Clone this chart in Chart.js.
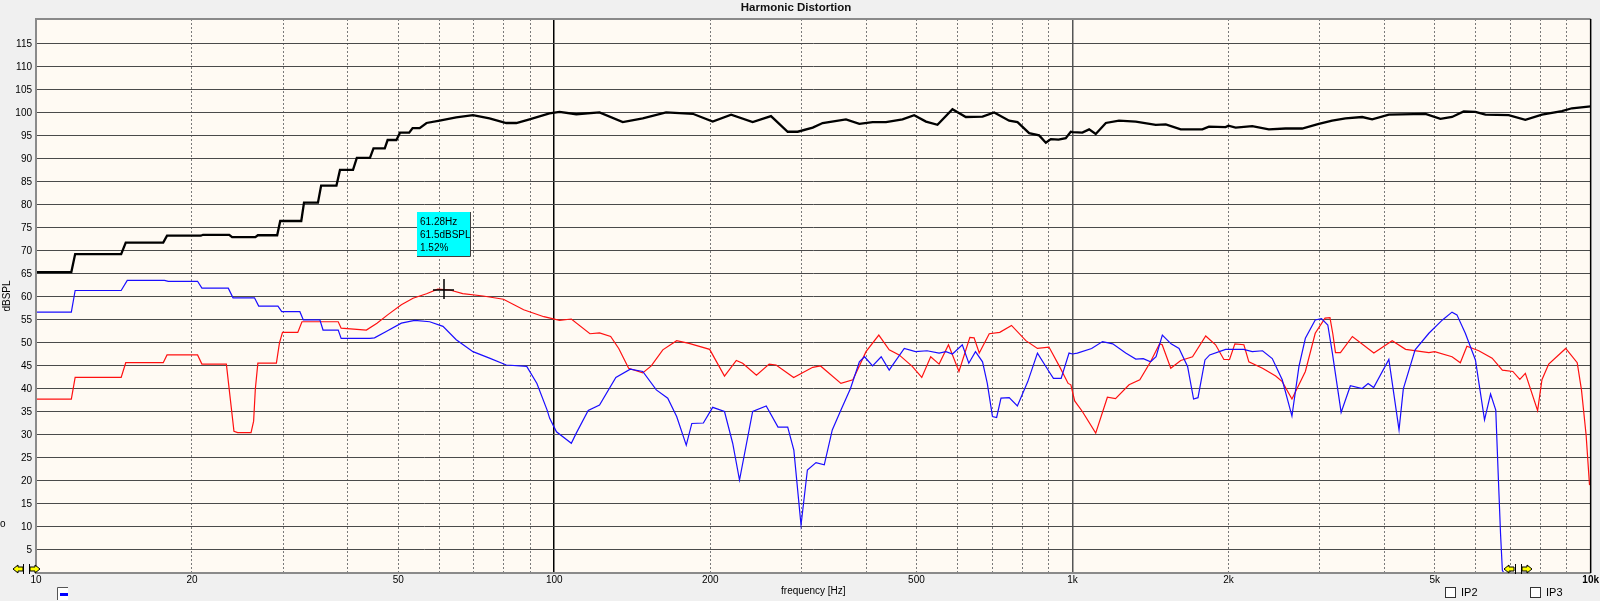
<!DOCTYPE html>
<html>
<head>
<meta charset="utf-8">
<title>Harmonic Distortion</title>
<script src="https://cdn.jsdelivr.net/npm/chart.js@4.4.1/dist/chart.umd.min.js"></script>
<style>
  html, body { margin: 0; padding: 0; background: #f0f0f0; overflow: hidden; }
  canvas { display: block; }
</style>
</head>
<body>
<canvas id="hd" width="1600" height="601"></canvas>
<script>
// ── Data ───────────────────────────────────────────
// fundamental
const fundHz = [
  10, 11.7, 11.9, 14.6, 14.9, 17.6, 17.9, 20.8, 21.0, 23.6,
  23.9, 26.5, 26.8, 29.2, 29.6, 32.5, 32.9, 35.0, 35.5, 38.0,
  38.6, 40.9, 41.6, 44.1, 44.8, 47.1, 47.7, 49.6, 50.4, 52.5,
  53.3, 55.0, 56.7, 60.1, 64.7, 69.7, 75.0, 80.8, 84.5, 89.6,
  97.9, 102.4, 110.3, 122.3, 135.6, 148.2, 164.4, 185.1, 202.2, 219.5,
  241.5, 262, 282.2, 295, 315.4, 329.6, 365.6, 388, 411.5, 436.7,
  470, 495, 521.7, 549, 586.8, 622.6, 670.7, 706.3, 754.9, 783.4,
  825, 862.4, 888.5, 908.4, 940, 970.8, 992.5, 1000, 1045, 1077,
  1109, 1160, 1230, 1325, 1448, 1514, 1618, 1781, 1834, 1975,
  2000, 2065, 2223, 2393, 2578, 2775, 2988, 3171, 3365, 3623,
  3788, 4079, 4800, 5130, 5401, 5689, 5993, 6265, 6947, 7481,
  8054, 8800, 9200, 10000
];
const fundDb = [
  65.4, 65.4, 69.3, 69.3, 71.8, 71.8, 73.3, 73.3, 73.5, 73.5,
  73.0, 73.0, 73.4, 73.4, 76.5, 76.5, 80.5, 80.5, 84.2, 84.2,
  87.6, 87.6, 90.2, 90.2, 92.3, 92.3, 94.1, 94.1, 95.7, 95.7,
  96.7, 96.7, 97.8, 98.3, 99.0, 99.5, 98.8, 97.8, 97.8, 98.6,
  99.9, 100.2, 99.7, 100.1, 98.0, 98.8, 100.1, 99.8, 98.1, 99.6,
  98.0, 99.3, 95.9, 95.9, 96.8, 97.8, 98.6, 97.6, 98.0, 98.0,
  98.6, 99.5, 98.1, 97.4, 100.8, 99.1, 99.2, 100.1, 98.3, 98.0,
  95.6, 95.1, 93.5, 94.3, 94.2, 94.5, 95.9, 95.8, 95.7, 96.4,
  95.4, 97.8, 98.3, 98.1, 97.4, 97.5, 96.4, 96.4, 97.0, 96.9,
  97.2, 96.8, 97.1, 96.4, 96.6, 96.6, 97.6, 98.3, 98.8, 99.1,
  98.6, 99.6, 99.8, 98.7, 99.1, 100.3, 100.2, 99.6, 99.5, 98.5,
  99.6, 100.4, 101.0, 101.4
];

// 2nd harmonic (red)
const h2Hz = [
  10, 11.7, 11.9, 14.6, 14.9, 17.6, 17.9, 20.5, 20.9, 23.3,
  23.7, 24.1, 24.5, 26.0, 26.3, 26.5, 26.8, 29.1, 29.5, 29.9,
  32.0, 32.6, 38.3, 38.8, 43.4, 45.5, 47.7, 50.7, 53.4, 56.7,
  59.6, 62.9, 66.6, 72.9, 79.8, 87.3, 95.5, 102.4, 107.9, 117.2,
  122.3, 128.5, 133.2, 139.2, 148.2, 153.9, 162, 172.3, 182, 199.5,
  213.1, 224.6, 231, 245.6, 259.9, 268, 289.8, 315.4, 326.5, 357.5,
  377, 399.6, 423, 443, 463, 490.8, 512, 532.7, 553, 576.5,
  604, 634, 646, 661, 691, 724, 762.8, 813, 856, 901,
  944, 981, 993, 1010, 1045, 1109, 1168, 1211, 1286, 1349,
  1415, 1473, 1490, 1548, 1618, 1705, 1808, 1889, 1960, 2010,
  2058, 2142, 2190, 2327, 2467, 2540, 2652, 2815, 2941, 3072,
  3140, 3180, 3218, 3290, 3469, 3816, 4140, 4395, 4873, 5000,
  5401, 5604, 5770, 6083, 6455, 6755, 7077, 7300, 7481, 7900,
  8054, 8300, 8950, 9420, 9600, 9800, 9950
];
const h2Db = [
  37.8, 37.8, 42.5, 42.5, 45.7, 45.7, 47.4, 47.4, 45.4, 45.4,
  38.0, 30.8, 30.5, 30.5, 33.0, 40.0, 45.6, 45.6, 50.0, 52.3,
  52.3, 54.6, 54.6, 53.2, 52.8, 54.3, 56.1, 58.3, 59.7, 60.7,
  61.7, 61.5, 60.7, 60.2, 59.5, 57.2, 55.7, 54.9, 55.2, 52.0,
  52.2, 51.4, 48.8, 44.5, 43.5, 45.0, 48.5, 50.5, 49.9, 48.6,
  42.8, 46.2, 45.6, 43.0, 45.4, 45.2, 42.5, 44.7, 45.0, 41.2,
  42.0, 48.1, 51.7, 48.5, 47.4, 44.9, 42.5, 47.0, 45.4, 49.6,
  43.8, 51.2, 51.1, 47.8, 52.0, 52.3, 53.8, 50.5, 48.8, 49.1,
  44.9, 41.2, 40.9, 37.4, 35.1, 30.4, 38.2, 37.9, 40.9, 42.0,
  45.9, 49.8, 49.6, 44.5, 46.2, 47.0, 51.5, 49.6, 46.4, 46.4,
  49.8, 49.6, 45.9, 44.5, 42.8, 41.6, 37.8, 43.8, 52.1, 55.4,
  55.5, 52.0, 47.9, 47.9, 51.4, 47.8, 50.5, 48.6, 47.9, 48.1,
  47.0, 45.7, 49.3, 48.3, 46.7, 44.1, 43.8, 42.1, 43.4, 35.3,
  42.0, 45.4, 48.8, 45.7, 39.8, 30.0, 19.1
];

// 3rd harmonic (blue)
const h3Hz = [
  10, 11.7, 11.9, 14.6, 15.0, 17.7, 18.0, 20.5, 20.9, 23.5,
  24.0, 26.4, 26.9, 29.3, 29.8, 32.3, 32.8, 35.3, 35.8, 38.3,
  38.8, 44.1, 45.0, 47.4, 50.7, 53.8, 57.5, 61.0, 64.7, 69.7,
  75.0, 80.8, 88.5, 92.6, 96.9, 98, 101, 107.9, 110.3, 116.3,
  122.3, 131.5, 140.2, 148.2, 157.4, 165.6, 172.3, 179.8, 184.3, 194,
  202.2, 213.1, 221, 227.8, 241.5, 256.5, 270.3, 282.2, 290, 299.4,
  308, 320, 332, 344, 357.5, 373, 388, 397, 411.5, 427.5,
  443, 448, 473.7, 498, 524, 553, 570, 586.8, 613, 631,
  650, 670.7, 685, 701, 714, 728, 755, 783, 820, 856,
  901, 919, 951, 985, 1000, 1022, 1089, 1143, 1196, 1267,
  1325, 1370, 1415, 1450, 1491, 1550, 1606, 1668, 1713, 1747,
  1802, 1840, 1975, 2140, 2223, 2327, 2430, 2540, 2652, 2736,
  2815, 2941, 3024, 3110, 3174, 3300, 3438, 3623, 3720, 3813,
  4079, 4268, 4350, 4584, 4873, 5176, 5401, 5520, 5730, 5993,
  6240, 6410, 6560, 6630, 6700, 6755, 6800
];
const h3Db = [
  56.7, 56.7, 61.4, 61.4, 63.6, 63.6, 63.4, 63.4, 61.9, 61.9,
  59.8, 59.8, 58.0, 58.0, 56.8, 56.8, 55.0, 55.0, 52.8, 52.8,
  51.0, 51.0, 51.1, 52.5, 54.3, 54.9, 54.6, 53.6, 50.7, 48.1,
  46.7, 45.2, 44.9, 41.2, 35.4, 33.6, 30.7, 28.2, 30.4, 35.3,
  36.5, 42.5, 44.3, 43.8, 39.8, 38.0, 34.0, 27.8, 32.5, 32.6,
  36.0, 35.1, 28.2, 20.2, 35.1, 36.3, 31.7, 31.7, 26.7, 10.4,
  22.4, 24.0, 23.5, 31.1, 35.4, 40.1, 45.9, 47.0, 45.0, 47.0,
  44.1, 44.9, 48.8, 48.1, 48.3, 47.8, 48.1, 47.6, 49.6, 45.6,
  48.1, 45.9, 41.2, 34.0, 33.8, 38.0, 38.1, 36.3, 41.6, 47.8,
  43.8, 42.3, 42.3, 47.8, 47.6, 47.8, 48.8, 50.3, 49.8, 47.8,
  46.5, 46.6, 45.9, 47.0, 51.7, 49.8, 48.8, 44.9, 37.8, 38.1,
  46.3, 47.4, 48.6, 48.6, 48.1, 48.3, 46.6, 42.0, 34.1, 44.9,
  51.0, 55.0, 55.3, 53.9, 47.8, 34.9, 40.7, 40.1, 41.2, 40.3,
  46.4, 31.1, 40.0, 48.5, 52.1, 55.0, 56.7, 56.1, 52.1, 46.3,
  33.3, 38.9, 35.4, 21.7, 8.6, 0.6, 0
];

// axes
const xTicks = [
  10, 20, 30, 40, 50, 60, 70, 80, 90,
  100, 200, 300, 400, 500, 600, 700, 800, 900,
  1000, 2000, 3000, 4000, 5000, 6000, 7000, 8000, 9000, 10000
];
const xLabels = { 10: '10', 20: '20', 50: '50', 100: '100', 200: '200', 500: '500',
                  1000: '1k', 2000: '2k', 5000: '5k', 10000: '10k' };
const yTicks = [5, 10, 15, 20, 25, 30, 35, 40, 45, 50, 55, 60,
                65, 70, 75, 80, 85, 90, 95, 100, 105, 110, 115];

// cursor readout
const cursorHz = 61.28;
const cursorDb = 61.5;
const cursorPct = '1.52%';

const FONT = '"Liberation Sans", Arial, sans-serif';
const pts = (xs, ys) => xs.map((x, i) => ({ x, y: ys[i] }));

// ── Plugins ───────────────────────────────────────
const backdrop = {
  id: 'backdrop',
  beforeDraw(chart) {
    const { ctx, chartArea: a } = chart;
    ctx.save();
    ctx.fillStyle = '#f0f0f0';
    ctx.fillRect(0, 0, chart.width, chart.height);
    ctx.fillStyle = '#fffaf3';
    ctx.fillRect(a.left, a.top, a.right - a.left, a.bottom - a.top);
    ctx.restore();
  }
};

function arrow(ctx, x, y, dir) {
  // little yellow marker arrow, tip at x
  const s = dir;
  ctx.beginPath();
  ctx.moveTo(x, y);
  ctx.lineTo(x + 5 * s, y - 4);
  ctx.lineTo(x + 5 * s, y - 2);
  ctx.lineTo(x + 10 * s, y - 2);
  ctx.lineTo(x + 10 * s, y + 2);
  ctx.lineTo(x + 5 * s, y + 2);
  ctx.lineTo(x + 5 * s, y + 4);
  ctx.closePath();
  ctx.fillStyle = '#ffff00';
  ctx.fill();
  ctx.strokeStyle = '#000';
  ctx.lineWidth = 1;
  ctx.stroke();
}

function bar(ctx, x, y) {
  ctx.beginPath();
  ctx.moveTo(x + 0.5, y - 5);
  ctx.lineTo(x + 0.5, y + 5);
  ctx.strokeStyle = '#000';
  ctx.lineWidth = 1;
  ctx.stroke();
}

function checkbox(ctx, x, y, label) {
  ctx.fillStyle = '#fff';
  ctx.fillRect(x, y, 10, 10);
  ctx.strokeStyle = '#333';
  ctx.lineWidth = 1;
  ctx.strokeRect(x + 0.5, y + 0.5, 10, 10);
  ctx.fillStyle = '#000';
  ctx.font = '11px ' + FONT;
  ctx.textBaseline = 'middle';
  ctx.textAlign = 'left';
  ctx.fillText(label, x + 16, y + 6);
}

const cursor = {
  id: 'cursor',
  afterDatasetsDraw(chart) {
    const { ctx } = chart;
    const cx = chart.scales.x.getPixelForValue(cursorHz);
    const cy = chart.scales.y.getPixelForValue(cursorDb);
    ctx.save();
    // crosshair
    ctx.strokeStyle = '#000';
    ctx.lineWidth = 1.5;
    ctx.beginPath();
    ctx.moveTo(cx - 11, cy); ctx.lineTo(cx + 10, cy);
    ctx.moveTo(cx, cy - 11); ctx.lineTo(cx, cy + 9);
    ctx.stroke();
    // readout box
    const bx = Math.round(cx - 27), by = Math.round(cy - 78);
    ctx.fillStyle = '#00ffff';
    ctx.fillRect(bx, by, 53, 44);
    ctx.strokeStyle = '#404040';
    ctx.lineWidth = 1;
    ctx.beginPath();
    ctx.moveTo(bx + 53.5, by); ctx.lineTo(bx + 53.5, by + 44.5); ctx.lineTo(bx, by + 44.5);
    ctx.stroke();
    ctx.fillStyle = '#000';
    ctx.font = '10px ' + FONT;
    ctx.textAlign = 'left';
    ctx.textBaseline = 'middle';
    ctx.fillText(cursorHz + 'Hz', bx + 3, by + 10);
    ctx.fillText(cursorDb + 'dBSPL', bx + 3, by + 23);
    ctx.fillText(cursorPct, bx + 3, by + 36);
    ctx.restore();
  }
};

const frame = {
  id: 'frame',
  afterDraw(chart) {
    const { ctx, chartArea: a } = chart;
    ctx.save();
    // plot frame
    ctx.strokeStyle = '#8a8a8a';
    ctx.lineWidth = 2;
    ctx.beginPath();
    ctx.moveTo(a.right, a.top); ctx.lineTo(a.left, a.top);
    ctx.lineTo(a.left, a.bottom); ctx.lineTo(a.right, a.bottom);
    ctx.stroke();
    ctx.strokeStyle = '#000';
    ctx.lineWidth = 1.5;
    ctx.beginPath();
    ctx.moveTo(a.right, a.top); ctx.lineTo(a.right, a.bottom);
    ctx.stroke();

    // range markers
    const my = a.bottom - 4;
    arrow(ctx, 13, my, 1); bar(ctx, 23, my);
    bar(ctx, 29, my); arrow(ctx, 40, my, -1);
    arrow(ctx, 1504, my, 1); bar(ctx, 1515, my);
    bar(ctx, 1521, my); arrow(ctx, 1532, my, -1);

    // stray glyph on the left edge
    ctx.fillStyle = '#000';
    ctx.font = '10px ' + FONT;
    ctx.textAlign = 'left';
    ctx.textBaseline = 'middle';
    ctx.fillText('o', 0, 524);

    // series swatch
    ctx.fillStyle = '#fff';
    ctx.fillRect(57, 587, 11, 13);
    ctx.strokeStyle = '#555';
    ctx.lineWidth = 1;
    ctx.beginPath();
    ctx.moveTo(57.5, 600); ctx.lineTo(57.5, 587.5); ctx.lineTo(68, 587.5);
    ctx.stroke();
    ctx.fillStyle = '#0000ff';
    ctx.fillRect(60, 593, 8, 3);

    // option checkboxes
    checkbox(ctx, 1445, 587, 'IP2');
    checkbox(ctx, 1530, 587, 'IP3');
    ctx.restore();
  }
};

// ── Chart ─────────────────────────────────────────
Chart.defaults.font.family = FONT;
Chart.defaults.color = '#000';

const isDecade = v => v === 100 || v === 1000;

new Chart(document.getElementById('hd'), {
  type: 'scatter',
  data: {
    datasets: [
      { label: 'H3', data: pts(h3Hz, h3Db), borderColor: '#1a0dff', borderWidth: 1.2 },
      { label: 'H2', data: pts(h2Hz, h2Db), borderColor: '#ff1010', borderWidth: 1.2 },
      { label: 'Fundamental', data: pts(fundHz, fundDb), borderColor: '#000', borderWidth: 2.3 }
    ].map(d => ({ ...d, showLine: true, pointRadius: 0, pointHoverRadius: 0, tension: 0, fill: false }))
  },
  options: {
    responsive: false,
    animation: false,
    devicePixelRatio: 1,
    layout: { padding: { right: 8, left: 0, top: 0, bottom: 0 } },
    events: [],
    plugins: {
      legend: { display: false },
      tooltip: { enabled: false },
      title: {
        display: true,
        text: 'Harmonic Distortion',
        color: '#111',
        font: { size: 11.5, weight: 'bold' },
        padding: { top: 1, bottom: 4.2 }
      }
    },
    scales: {
      x: {
        type: 'logarithmic',
        min: 10,
        max: 10000,
        afterBuildTicks: s => { s.ticks = xTicks.map(v => ({ value: v })); },
        afterFit: s => { s.height = 28; },
        grid: {
          drawTicks: false,
          color: c => c.tick && c.tick.value === 100 ? '#000'
                    : c.tick && c.tick.value === 1000 ? '#555' : '#7a7a7a',
          lineWidth: c => c.tick && isDecade(c.tick.value) ? 1.5 : 1
        },
        border: {
          display: false,
          dash: c => (c.tick && !isDecade(c.tick.value)) ? [2, 2] : []
        },
        ticks: {
          autoSkip: false,
          maxRotation: 0,
          minRotation: 0,
          padding: 1,
          color: '#000',
          font: c => ({ size: 10, weight: c.tick && c.tick.value === 10000 ? 'bold' : 'normal' }),
          callback: v => xLabels[v] || ''
        },
        title: {
          display: true,
          text: 'frequency [Hz]',
          font: { size: 10 },
          padding: { top: 0, bottom: 4 }
        }
      },
      y: {
        min: 0,
        max: 120.4,
        afterBuildTicks: s => { s.ticks = yTicks.map(v => ({ value: v })); },
        afterFit: s => { s.width = 36; },
        grid: { drawTicks: false, color: '#4a4a4a', lineWidth: 1 },
        border: { display: false },
        ticks: { padding: 4, color: '#000', font: { size: 10 } },
        title: {
          display: true,
          text: 'dBSPL',
          font: { size: 10 },
          padding: { top: 1, bottom: 0 }
        }
      }
    }
  },
  plugins: [backdrop, cursor, frame]
});
</script>
</body>
</html>
